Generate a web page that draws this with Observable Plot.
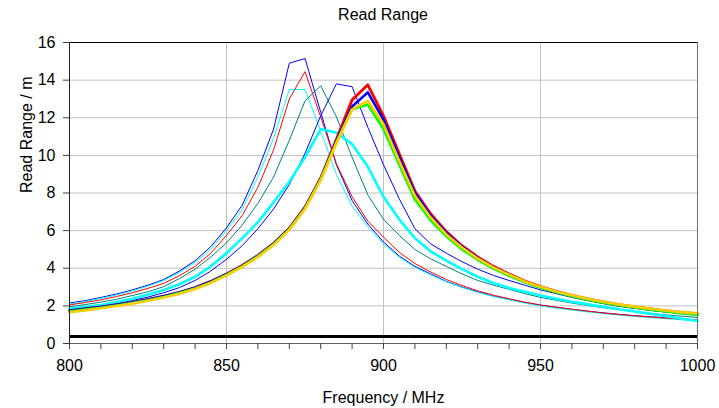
<!DOCTYPE html>
<html><head><meta charset="utf-8">
<script src="https://cdn.jsdelivr.net/npm/d3@7"></script>
<script src="https://cdn.jsdelivr.net/npm/@observablehq/plot@0.6"></script>
<style>
body{margin:0;background:#fff;font-family:"Liberation Sans",Arial,sans-serif;}
#title{width:719px;height:30px;line-height:30px;box-sizing:border-box;padding-left:47px;text-align:center;font-size:16px;color:#000;}
</style></head><body>
<div id="title">Read Range</div>
<div id="chart"></div>
<script>
const freqs = d3.range(800, 1001, 5);
const xTitle = "Frequency / MHz";
const yTitle = "Read Range / m";
const yTicks = [0, 2, 4, 6, 8, 10, 12, 14, 16];
const xTicks = d3.range(800, 1001, 10);
const xLabelTicks = [800, 850, 900, 950, 1000];
const floorLine = 0.37;

const blueThinA = [2.15,2.28,2.45,2.63,2.85,3.1,3.4,3.85,4.4,5.15,6.15,7.35,9.2,11.4,14.9,15.15,12.3,9.5,7.6,6.35,5.4,4.65,4.1,3.7,3.3,3.0,2.75,2.52,2.35,2.18,2.03,1.92,1.82,1.72,1.63,1.55,1.48,1.42,1.37,1.31,1.25];
const cyanThin = [2.1,2.23,2.4,2.58,2.8,3.05,3.35,3.78,4.3,5.0,6.0,7.1,8.85,10.9,13.5,13.5,11.3,9.0,7.3,6.2,5.3,4.6,4.05,3.65,3.28,2.98,2.72,2.5,2.32,2.15,2.0,1.88,1.78,1.68,1.59,1.51,1.44,1.38,1.32,1.26,1.2];
const redThin = [2.05,2.18,2.32,2.5,2.7,2.93,3.2,3.6,4.1,4.8,5.75,6.8,8.3,10.3,13.0,14.45,12.05,9.55,7.8,6.5,5.65,4.85,4.25,3.8,3.4,3.08,2.8,2.57,2.38,2.2,2.05,1.93,1.82,1.72,1.62,1.54,1.47,1.41,1.35,1.29,1.23];
const tealThin = [1.95,2.07,2.2,2.35,2.55,2.75,3.02,3.45,3.95,4.6,5.35,6.3,7.45,8.85,10.8,12.9,13.7,12.05,9.9,7.9,6.6,5.75,5.0,4.5,4.1,3.7,3.35,3.1,2.88,2.65,2.45,2.3,2.15,2.02,1.9,1.8,1.7,1.6,1.52,1.45,1.38];
const blueThinB = [1.8,1.9,2.0,2.12,2.28,2.47,2.7,2.97,3.35,3.85,4.48,5.2,6.1,7.15,8.45,10.1,12.1,13.8,13.65,11.5,9.5,7.7,6.1,5.3,4.8,4.35,3.95,3.62,3.35,3.1,2.85,2.65,2.45,2.28,2.12,1.98,1.87,1.76,1.67,1.6,1.52];
const cyanThick = [1.85,1.95,2.05,2.2,2.38,2.6,2.85,3.15,3.55,4.1,4.8,5.6,6.45,7.5,8.6,9.9,11.4,11.2,10.6,9.4,7.8,6.6,5.6,4.9,4.4,3.95,3.55,3.22,2.95,2.75,2.55,2.38,2.22,2.08,1.95,1.82,1.7,1.58,1.45,1.32,1.2];
const redThick = [1.75,1.85,1.95,2.07,2.2,2.35,2.52,2.72,2.97,3.3,3.7,4.15,4.68,5.32,6.12,7.25,8.8,10.85,12.95,13.75,12.1,10.1,8.1,6.9,5.95,5.2,4.6,4.1,3.7,3.32,3.02,2.77,2.56,2.37,2.21,2.07,1.95,1.84,1.74,1.65,1.57];
const blueThick = [1.74,1.84,1.94,2.06,2.19,2.34,2.51,2.71,2.96,3.28,3.68,4.13,4.66,5.3,6.1,7.22,8.75,10.75,12.6,13.35,11.9,9.9,8.0,6.8,5.88,5.15,4.55,4.06,3.66,3.29,2.99,2.74,2.53,2.34,2.18,2.04,1.92,1.81,1.71,1.62,1.54];
const greenThick = [1.7,1.8,1.9,2.02,2.15,2.3,2.47,2.68,2.93,3.25,3.65,4.1,4.63,5.27,6.07,7.18,8.72,10.7,12.45,12.7,11.4,9.5,7.65,6.55,5.7,5.0,4.45,3.98,3.6,3.25,2.96,2.72,2.51,2.33,2.17,2.03,1.91,1.8,1.7,1.61,1.52];
const yellowThick = [1.66,1.76,1.87,1.99,2.12,2.27,2.44,2.65,2.9,3.22,3.62,4.07,4.6,5.24,6.04,7.15,8.68,10.65,12.45,12.9,11.65,9.7,7.85,6.7,5.8,5.1,4.52,4.05,3.66,3.3,3.01,2.77,2.56,2.38,2.22,2.08,1.96,1.85,1.75,1.67,1.6];

const series = [
  {values: blueThinA, color: "#0000ff", w: 1},
  {values: cyanThin, color: "#00ffff", w: 1},
  {values: redThin, color: "#ff0000", w: 1},
  {values: tealThin, color: "#008080", w: 1},
  {values: blueThinB, color: "#0000ff", w: 1},
  {values: cyanThick, color: "#00ffff", w: 2.6},
  {values: redThick, color: "#ff0000", w: 2.8},
  {values: blueThick, color: "#0000ff", w: 2.6},
  {values: greenThick, color: "#00ff00", w: 2.6},
  {values: yellowThick, color: "#ffcc00", w: 2.6}
];

const lineMarks = series.map(s =>
  Plot.line(freqs.map((f, i) => ({f, v: s.values[i]})), {x: "f", y: "v", stroke: s.color, strokeWidth: s.w})
);

const chart = Plot.plot({
  width: 719,
  height: 378,
  marginLeft: 69,
  marginRight: 22,
  marginTop: 12,
  marginBottom: 65,
  style: {fontFamily: "'Liberation Sans', Arial, sans-serif", fontSize: "16px", background: "#fff", color: "#000"},
  x: {domain: [800, 1000]},
  y: {domain: [0, 16]},
  marks: [
    Plot.gridY(yTicks.filter(t => t > 0 && t < 16), {stroke: "#c0c0c0", strokeOpacity: 1}),
    Plot.gridX(xLabelTicks.filter(t => t > 800 && t < 1000), {stroke: "#c0c0c0", strokeOpacity: 1}),
    Plot.ruleY([floorLine], {stroke: "#000", strokeWidth: 3}),
    ...lineMarks,
    Plot.ruleY([16], {stroke: "#000"}),
    Plot.ruleX([1000], {stroke: "#707070"}),
    Plot.ruleY([0], {stroke: "#606060"}),
    Plot.ruleX([800], {stroke: "#202020"}),
    Plot.axisY({ticks: yTicks, tickSize: 6, tickPadding: 8, label: null, fontSize: 16, stroke: "#404040"}),
    Plot.axisX({ticks: xTicks, tickSize: 6, tickPadding: 10, label: null, fontSize: 16, stroke: "#404040",
      tickFormat: d => xLabelTicks.includes(d) ? String(d) : ""}),
    Plot.text([xTitle], {frameAnchor: "bottom", dy: 54, fontSize: 16, lineAnchor: "middle"}),
    Plot.text([yTitle], {frameAnchor: "left", dx: -43, rotate: -90, fontSize: 16, lineAnchor: "middle"})
  ]
});
document.getElementById("chart").appendChild(chart);
</script>
</body></html>
